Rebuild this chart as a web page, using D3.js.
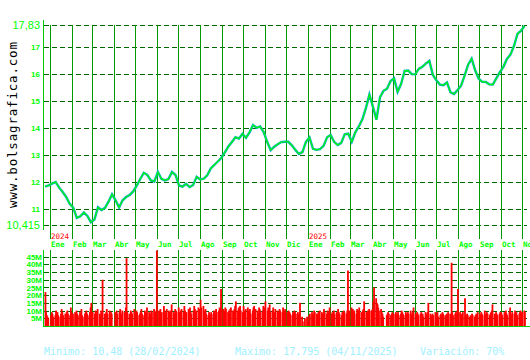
<!DOCTYPE html>
<html>
<head>
<meta charset="utf-8">
<script src="https://cdn.jsdelivr.net/npm/d3@7"></script>
<style>
  body { margin: 0; background: #fff; }
  svg { display: block; font-family: "DejaVu Sans Mono", monospace; }
</style>
</head>
<body>
<div id="canvas"></div>
<script>
// closes sampled every 5 days from startDate
const startDate = "2023-12-25";
const stepDays = 5;
const closes = [
  11.84, 11.88, 11.95, 12.01, 11.8, 11.64, 11.45, 11.2, 11.06, 10.68,
  10.74, 10.88, 10.75, 10.52, 10.62, 11.07, 10.97, 11.05, 11.28, 11.55,
  11.33, 11.06, 11.33, 11.45, 11.53, 11.66, 11.87, 12.12, 12.35, 12.27,
  12.07, 12.03, 12.38, 12.13, 12.07, 12.12, 12.38, 12.27, 11.88, 11.84,
  11.94, 11.82, 11.9, 12.2, 12.1, 12.13, 12.26, 12.51, 12.64, 12.77,
  12.9, 13.11, 13.33, 13.49, 13.67, 13.62, 13.79, 13.65, 13.85, 14.12,
  14.02, 14.07, 13.86, 13.5, 13.19, 13.32, 13.41, 13.49, 13.5, 13.5,
  13.37, 13.2, 13.05, 13.12, 13.5, 13.66, 13.24, 13.2, 13.23, 13.35,
  13.67, 13.75, 13.5, 13.38, 13.46, 13.78, 13.8, 13.5, 13.85, 14.07,
  14.33, 14.75, 15.25, 14.8, 14.32, 15.15, 15.39, 15.47, 15.75, 15.85,
  15.35, 15.65, 16.13, 16.14, 16.01, 16.0, 16.2, 16.28, 16.4, 16.5,
  15.98, 15.78, 15.62, 15.6, 15.7, 15.33, 15.27, 15.42, 15.58, 15.95,
  16.36, 16.58, 16.15, 15.84, 15.72, 15.72, 15.63, 15.62, 15.85, 16.08,
  16.28, 16.57, 16.73, 17.05, 17.5, 17.62, 17.79
];

// daily volume (millions), one per weekday from volStart
const volStart = "2023-12-22";
const volumes = [
  8, 22, 9, 7, 6, 5,
  0, 7, 9, 8, 6, 7, 10, 8, 9, 7, 6, 8, 11, 9, 7, 8, 6, 9, 10, 8, 7, 12, 9,
  7, 8, 9, 6, 10, 8, 7, 9, 8, 11, 7, 6, 8, 9, 10, 8, 7, 9, 12, 15, 8,
  9, 8, 10, 7, 9, 11, 8, 7, 10, 9, 30, 8, 7, 9, 11, 8, 10, 7, 9, 8, 0,
  0, 9, 7, 10, 8, 9, 11, 7, 8, 10, 9, 8, 12, 44, 9, 8, 7, 10, 9, 8, 11, 9,
  0, 10, 9, 7, 8, 9, 11, 8, 7, 10, 9, 8, 12, 9, 7, 8, 10, 9, 11, 8, 9, 10, 49,
  10, 9, 11, 8, 9, 13, 10, 8, 9, 11, 10, 9, 8, 10, 14, 9, 8, 11, 10, 9,
  12, 9, 8, 10, 11, 9, 13, 10, 8, 9, 11, 10, 12, 9, 8, 10, 13, 11, 9, 10, 12, 9, 11,
  17, 12, 13, 10, 9, 11, 8, 7, 9, 8, 7, 9, 8, 10, 9, 8, 11, 9, 10, 12, 11, 24,
  11, 9, 10, 12, 11, 9, 10, 8, 11, 12, 10, 9, 11, 13, 16, 10, 12, 11, 13, 10, 9,
  13, 10, 9, 11, 12, 10, 9, 11, 8, 10, 12, 13, 9, 11, 10, 8, 12, 11, 9, 10, 13, 11, 12,
  16, 10, 12, 11, 14, 9, 10, 12, 8, 9, 11, 10, 9, 8, 11, 10, 9, 12, 10, 9, 11,
  9, 8, 10, 9, 8, 7, 9, 8, 10, 9, 8, 9, 7, 8, 15, 6, 3, 0, 0, 5, 6, 3,
  0, 7, 8, 9, 7, 8, 10, 9, 8, 7, 9, 8, 10, 9, 8, 7, 11, 9, 8, 10, 9, 8, 12,
  8, 9, 7, 10, 8, 9, 8, 11, 9, 8, 7, 9, 8, 10, 9, 8, 10, 36, 9, 10,
  12, 10, 11, 9, 10, 8, 11, 9, 10, 12, 9, 8, 10, 11, 16, 9, 8, 10, 9, 11, 10,
  10, 11, 16, 25, 18, 15, 14, 12, 10, 11, 9, 8, 6, 0, 0, 7, 8, 9, 8, 7, 8, 9,
  0, 8, 9, 7, 8, 9, 7, 8, 10, 9, 8, 7, 9, 8, 7, 9, 8, 10, 7, 8, 9, 12,
  8, 7, 9, 8, 7, 8, 9, 7, 8, 6, 9, 8, 7, 9, 15, 8, 7, 6, 8, 7, 9,
  8, 7, 9, 6, 7, 8, 7, 9, 8, 7, 6, 8, 7, 9, 8, 7, 41, 9, 7, 8, 9, 8, 10,
  24, 9, 8, 7, 8, 9, 18, 7, 6, 8, 7, 6, 7, 6, 8, 7, 6, 7, 8, 7, 9,
  8, 7, 9, 8, 7, 10, 8, 7, 9, 8, 7, 8, 9, 10, 14, 8, 7, 9, 8, 7, 8, 9,
  9, 8, 7, 9, 8, 10, 8, 7, 9, 12, 8, 7, 9, 8, 10, 8, 9, 7, 8, 9, 10, 8, 9,
  10, 9
];

const priceTicks = [17.83, 17, 16, 15, 14, 13, 12, 11, 10.415];
const volTicks = [5, 10, 15, 20, 25, 30, 35, 40, 45];
const monthNames = ["Ene", "Feb", "Mar", "Abr", "May", "Jun", "Jul", "Ago", "Sep", "Oct", "Nov", "Dic"];
const statsText = ["Minimo: 10,48 (28/02/2024)", "Maximo: 17,795 (04/11/2025)", "Variación: 70%"];

const width = 530, height = 360;
const left = 44, right = 527;

const svg = d3.select("#canvas").append("svg")
  .attr("width", width).attr("height", height);
svg.append("rect").attr("width", width).attr("height", height).attr("fill", "#fff");

const parse = d3.timeParse("%Y-%m-%d");
const x = d3.scaleTime()
  .domain([new Date(2023, 11, 23, 12), new Date(2025, 10, 7, 12)])
  .range([left, right]);
const y = d3.scaleLinear().domain([10.415, 17.83]).range([225, 25]);
const yv = d3.scaleLinear().domain([0, 45]).range([326, 256.6]);

const priceData = closes.map((c, i) => ({ date: d3.timeDay.offset(parse(startDate), i * stepDays), close: c }));

const volDays = d3.timeDay.range(parse(volStart), new Date(2025, 10, 5))
  .filter(d => d.getDay() !== 0 && d.getDay() !== 6);
const volData = volumes.map((v, i) => ({ date: volDays[i], vol: v }))
  .filter(d => d.date && x(d.date) >= left);

const months = d3.timeMonth.range(new Date(2024, 0, 1), new Date(2025, 10, 2));

// horizontal dashed grid (price) via axis
const yAxis = svg.append("g")
  .attr("transform", `translate(${left},0)`)
  .call(d3.axisLeft(y).tickValues(priceTicks).tickSize(-(right - left)).tickPadding(4)
    .tickFormat(d => (d === 17.83 || d === 10.415) ? String(d).replace(".", ",") : d));
yAxis.select(".domain").remove();
yAxis.selectAll("line")
  .attr("stroke", "#006600").attr("stroke-dasharray", "5,3").attr("shape-rendering", "crispEdges");
yAxis.selectAll("text")
  .attr("fill", "#00ff00")
  .attr("font-size", d => (d === 17.83 || d === 10.415) ? 11 : 8)
  .attr("font-weight", d => (d === 17.83 || d === 10.415) ? "normal" : "bold");

// volume grid via axis
const vAxis = svg.append("g")
  .attr("transform", `translate(${left},0)`)
  .call(d3.axisLeft(yv).tickValues(volTicks).tickSize(-(right - left)).tickPadding(2)
    .tickFormat(d => d + "M"));
vAxis.select(".domain").remove();
vAxis.selectAll("line")
  .attr("stroke", "#006600").attr("stroke-dasharray", "5,3").attr("shape-rendering", "crispEdges");
vAxis.selectAll("text")
  .attr("fill", "#00ff00").attr("font-size", 8).attr("font-weight", "bold");

// month lines
const mLines = svg.append("g").attr("stroke", "#009900").attr("shape-rendering", "crispEdges");
mLines.selectAll(".top").data(months).enter().append("line")
  .attr("x1", d => Math.round(x(d)) + 0.5).attr("x2", d => Math.round(x(d)) + 0.5)
  .attr("y1", 25).attr("y2", 239);
mLines.selectAll(".bot").data(months).enter().append("line")
  .attr("x1", d => Math.round(x(d)) + 0.5).attr("x2", d => Math.round(x(d)) + 0.5)
  .attr("y1", 250).attr("y2", 326);

// month labels
svg.append("g").selectAll("text").data(months).enter().append("text")
  .attr("x", d => Math.round(x(d)) + 1)
  .attr("y", 247)
  .attr("fill", "#00ff00").attr("font-size", 7.5).attr("font-weight", "bold")
  .text(d => monthNames[d.getMonth()]);
svg.append("g").selectAll("text").data(months.filter(d => d.getMonth() === 0)).enter().append("text")
  .attr("x", d => Math.round(x(d)) + 1)
  .attr("y", 238.5)
  .attr("fill", "#ff0000").attr("font-size", 7.5)
  .text(d => d.getFullYear());

// volume bars
svg.append("g").selectAll("rect").data(volData).enter().append("rect")
  .attr("x", d => x(d.date) - 0.5)
  .attr("width", 1.8)
  .attr("y", d => yv(d.vol))
  .attr("height", d => yv(0) - yv(d.vol))
  .attr("fill", "#ff0000");

// axes lines
const axisColor = "#00cc00";
svg.append("line").attr("x1", 43.5).attr("x2", 43.5).attr("y1", 20).attr("y2", 230)
  .attr("stroke", axisColor).attr("shape-rendering", "crispEdges");
svg.append("line").attr("x1", 43.5).attr("x2", 43.5).attr("y1", 250).attr("y2", 327)
  .attr("stroke", axisColor).attr("shape-rendering", "crispEdges");
svg.append("line").attr("x1", 43).attr("x2", 530).attr("y1", 326.5).attr("y2", 326.5)
  .attr("stroke", axisColor).attr("shape-rendering", "crispEdges");

// price line: teal band under a thin green close line
const line = d3.line().x(d => x(d.date)).y(d => y(d.close));
svg.append("path").datum(priceData)
  .attr("d", line).attr("fill", "none")
  .attr("stroke", "#00a8c0").attr("stroke-width", 2.4);
svg.append("path").datum(priceData)
  .attr("d", line).attr("fill", "none")
  .attr("stroke", "#00ff00").attr("stroke-width", 1.1);

// watermark
svg.append("text")
  .attr("transform", "translate(17,208) rotate(-90)")
  .attr("font-size", 12.5).attr("fill", "#000")
  .attr("textLength", 166).attr("lengthAdjust", "spacing")
  .text("www.bolsagrafica.com");

// stats footer
const statX = [44, 235, 420];
svg.append("g").selectAll("text").data(statsText).enter().append("text")
  .attr("x", (d, i) => statX[i]).attr("y", 355)
  .attr("fill", "#a0f0ff").attr("font-size", 10)
  .text(d => d);
</script>
</body>
</html>
